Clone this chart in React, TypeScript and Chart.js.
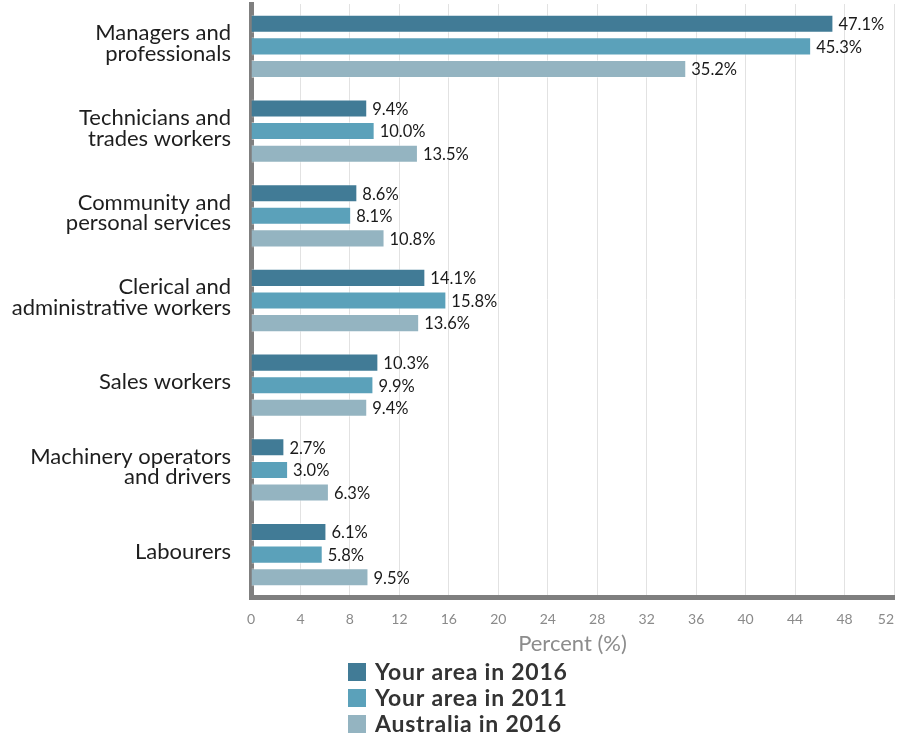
import React, { useEffect, useRef } from "react";
import { Chart, registerables } from "chart.js";

Chart.register(...registerables);

const categories: string[][] = [
  ["Managers and", "professionals"],
  ["Technicians and", "trades workers"],
  ["Community and", "personal services"],
  ["Clerical and", "administrative workers"],
  ["Sales workers"],
  ["Machinery operators", "and drivers"],
  ["Labourers"],
];

const seriesNames = ["Your area in 2016", "Your area in 2011", "Australia in 2016"];
const area2016 = [47.1, 9.4, 8.6, 14.1, 10.3, 2.7, 6.1];
const area2011 = [45.3, 10.0, 8.1, 15.8, 9.9, 3.0, 5.8];
const australia2016 = [35.2, 13.5, 10.8, 13.6, 9.4, 6.3, 9.5];
const seriesColors = ["#417b96", "#5ba1ba", "#94b4c1"];
const xTicksMax = 52;
const xTickStep = 4;
const xTitle = "Percent (%)";

const FONT = "Lato, 'Open Sans', sans-serif";

const valueLabelPlugin = {
  id: "valueLabels",
  afterDatasetsDraw(chart: any) {
    const ctx = chart.ctx;
    ctx.save();
    ctx.font = `16.5px ${FONT}`;
    ctx.fillStyle = "#1a1a1a";
    ctx.textAlign = "left";
    ctx.textBaseline = "middle";
    chart.data.datasets.forEach((ds: any, di: number) => {
      const meta = chart.getDatasetMeta(di);
      meta.data.forEach((el: any, i: number) => {
        const v = ds.data[i] as number;
        ctx.fillText(v.toFixed(1) + "%", el.x + 5, el.y + 1);
      });
    });
    ctx.restore();
  },
};

const customLegendPlugin = {
  id: "customLegend",
  afterDraw(chart: any) {
    const ctx = chart.ctx;
    ctx.save();
    ctx.font = `bold 23px ${FONT}`;
    try {
      ctx.letterSpacing = "0.75px";
    } catch (e) {}
    ctx.textBaseline = "middle";
    ctx.textAlign = "left";
    const left = 348;
    const top = 672;
    const step = 26;
    chart.data.datasets.forEach((ds: any, i: number) => {
      const cy = top + i * step;
      ctx.fillStyle = ds.backgroundColor;
      ctx.fillRect(left, cy - 9, 18, 18);
      ctx.fillStyle = "#333333";
      ctx.fillText(ds.label, left + 27, cy + 1);
    });
    ctx.restore();
  },
};

export default function App() {
  const ref = useRef<HTMLCanvasElement | null>(null);

  useEffect(() => {
    if (!ref.current) return;
    const chart = new Chart(ref.current, {
      type: "bar",
      data: {
        labels: categories,
        datasets: [area2016, area2011, australia2016].map((d, i) => ({
          label: seriesNames[i],
          data: d,
          backgroundColor: seriesColors[i],
          borderColor: "rgba(255,255,255,0.45)",
          borderWidth: 1,
          categoryPercentage: 0.8,
          barPercentage: 0.8,
        })),
      },
      options: {
        indexAxis: "y",
        animation: false,
        responsive: false,
        layout: { padding: { top: 4, right: 3, bottom: 78, left: 0 } },
        plugins: {
          legend: { display: false },
          tooltip: { enabled: false },
        },
        scales: {
          x: {
            min: 0,
            max: xTicksMax,
            ticks: {
              stepSize: xTickStep,
              color: "#8a8a8a",
              font: { family: FONT, size: 14 },
              padding: 14,
              callback: (v: any) => (v === xTicksMax ? String(v) + "\u2007\u2007" : String(v)),
            },
            grid: { color: "#e2e2e2", lineWidth: 1, drawTicks: false },
            border: { display: true, width: 5, color: "#7f7f7f" },
            title: {
              display: true,
              text: xTitle,
              color: "#8c8c8c",
              font: { family: FONT, size: 22 },
              padding: { top: 0, bottom: 0 },
            },
            afterFit: (scale: any) => {
              scale.height = 60;
              scale.paddingRight = 0;
              scale.paddingLeft = 0;
            },
          },
          y: {
            z: 1,
            ticks: {
              color: "#1e1e1e",
              font: { family: FONT, size: 22, lineHeight: 0.94 },
              padding: 20,
              labelOffset: -3,
            },
            grid: { display: false, drawTicks: false },
            border: { display: true, width: 5, color: "#7f7f7f" },
            afterFit: (scale: any) => {
              scale.width = 251;
              scale.paddingTop = 0;
              scale.paddingBottom = 0;
            },
          },
        },
      },
      plugins: [valueLabelPlugin, customLegendPlugin],
    });
    return () => chart.destroy();
  }, []);

  return (
    <div style={{ position: "absolute", left: 0, top: 0, width: 897, height: 735, background: "#fff" }}>
      <canvas ref={ref} width={897} height={735} style={{ display: "block" }} />
    </div>
  );
}
